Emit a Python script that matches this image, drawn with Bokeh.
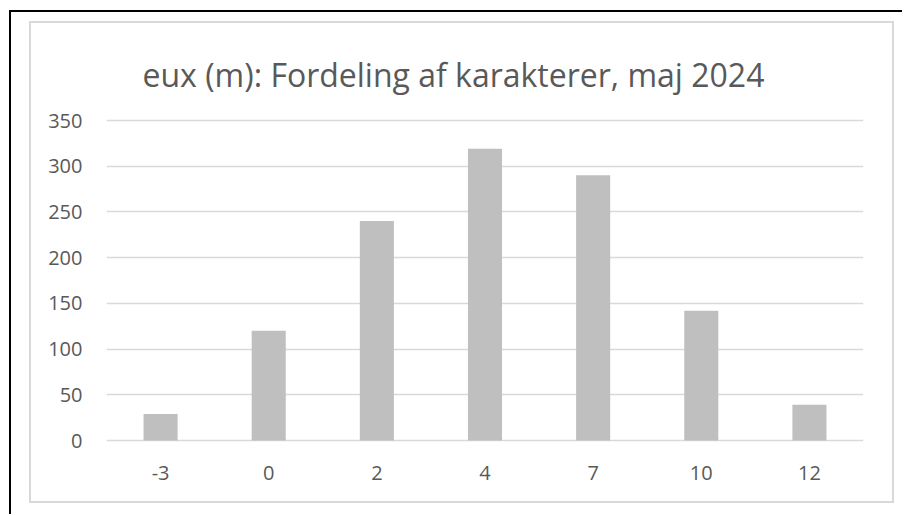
from bokeh.plotting import figure
from bokeh.layouts import column
from bokeh.models import ColumnDataSource, Range1d, FactorRange, SingleIntervalTicker
from bokeh.embed import file_html
from bokeh.resources import INLINE

grades = ["-3", "0", "2", "4", "7", "10", "12"]
counts = [29, 120, 240, 319, 290, 142, 39]
title_text = "eux (m): Fordeling af karakterer, maj 2024"

FONT = "Open Sans"
TXT = "#595959"

p = figure(width=865, height=482, output_backend="svg", toolbar_location=None,
           x_range=FactorRange(*grades, range_padding=0),
           y_range=Range1d(-4.375, 354.375),
           min_border_left=75, min_border_right=33, min_border_top=93, min_border_bottom=61,
           margin=(9, 0, 0, 18),
           styles={"border": "2px solid #d9d9d9"})
p.outline_line_color = None
p.background_fill_color = "white"
p.border_fill_color = "white"

p.title.text = title_text
p.title.text_font = FONT
p.title.text_font_size = "32px"
p.title.text_font_style = "normal"
p.title.text_color = TXT
p.title.align = "left"
p.title.offset = 36
p.title.standoff = 41

src = ColumnDataSource(dict(g=grades, c=counts))
p.vbar(x="g", top="c", bottom=0, width=0.315, source=src, fill_color="#bfbfbf", line_color=None)

p.xgrid.grid_line_color = None
p.ygrid.grid_line_color = "#d9d9d9"
p.ygrid.grid_line_width = 1.5
p.yaxis.ticker = SingleIntervalTicker(interval=50)

for ax in (p.xaxis[0], p.yaxis[0]):
    ax.axis_line_color = None
    ax.major_tick_line_color = None
    ax.minor_tick_line_color = None
    ax.major_tick_out = 0
    ax.major_tick_in = 0
    ax.major_label_text_font = FONT
    ax.major_label_text_font_size = "20px"
    ax.major_label_text_color = TXT
p.yaxis.major_label_standoff = 20
p.xaxis.major_label_standoff = 21

layout = column(p, margin=(10, 0, 0, 9),
                styles={"border-left": "2px solid black", "border-top": "2px solid black",
                        "width": "893px", "height": "504px"})

open("out.html", "w").write(file_html(layout, INLINE))
